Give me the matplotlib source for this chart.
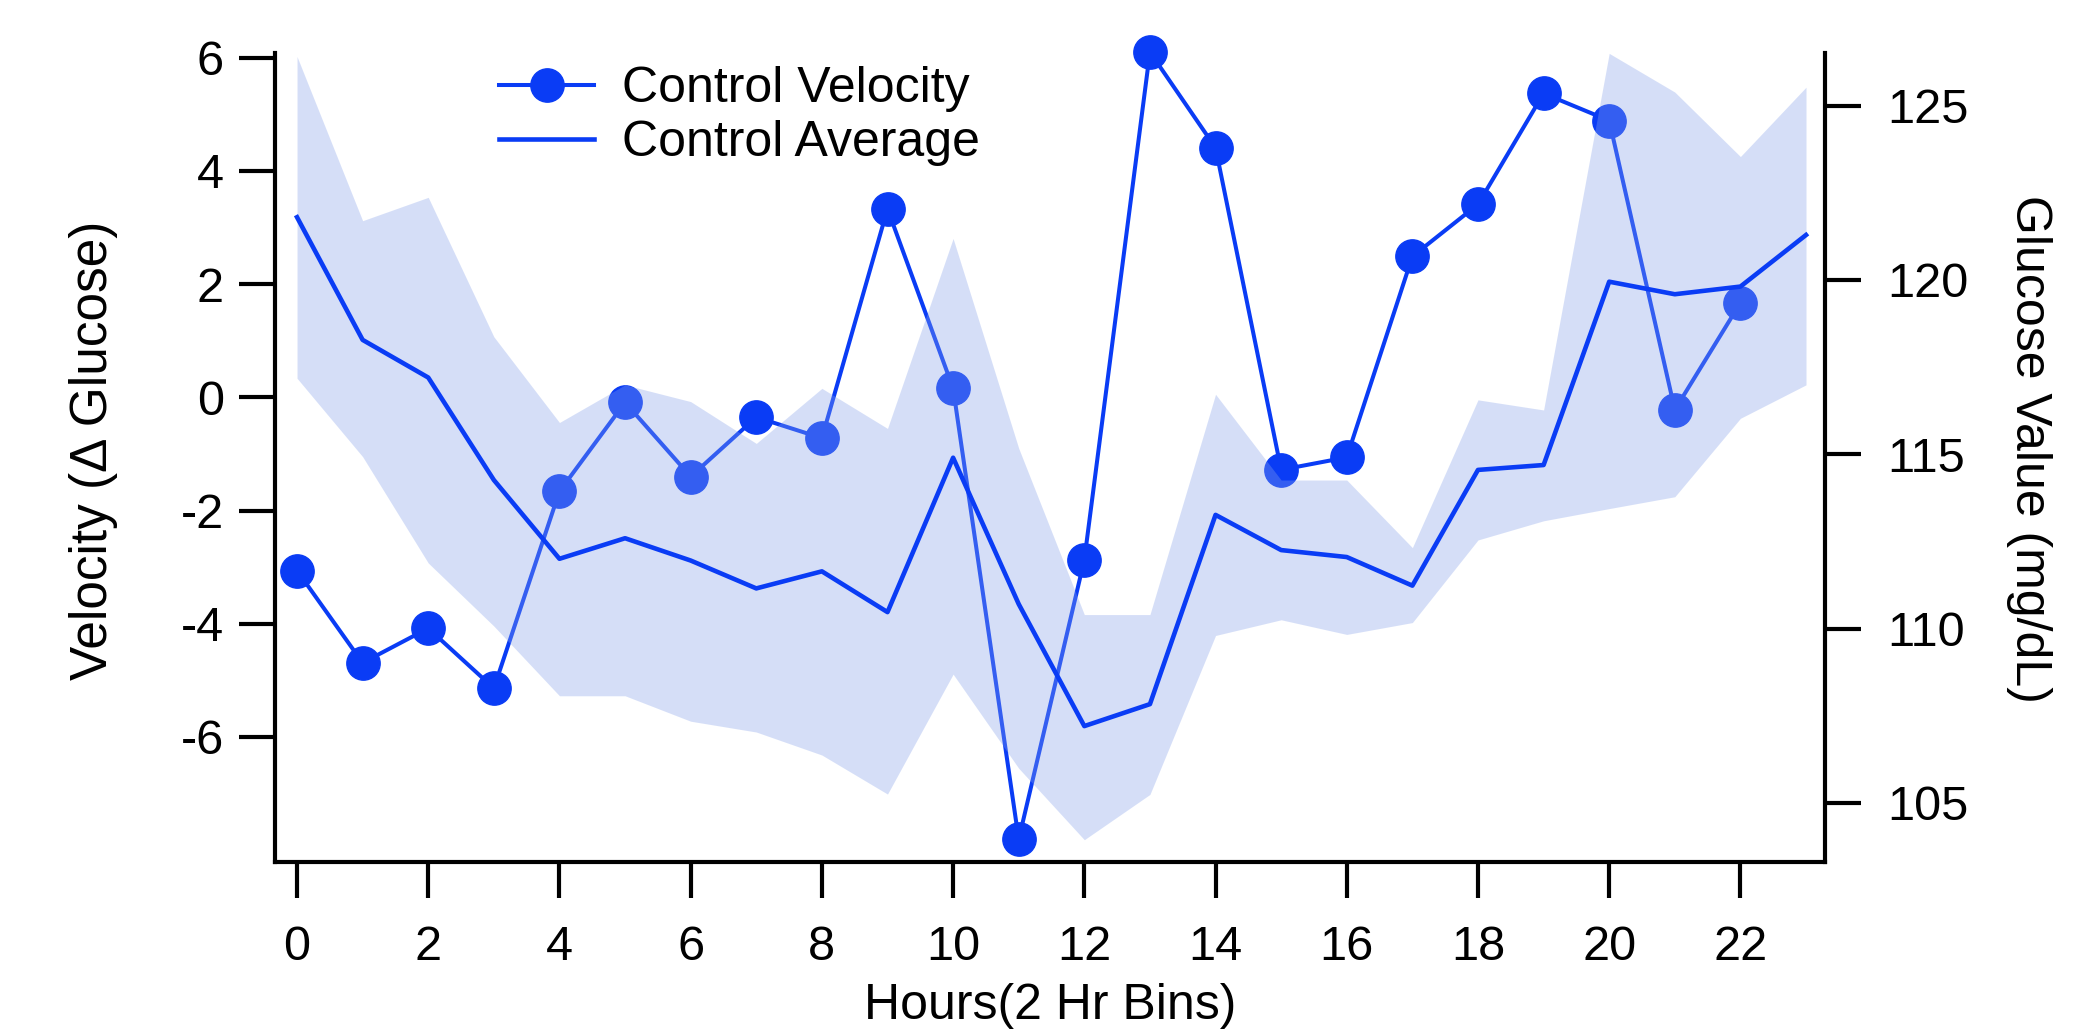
import numpy as np
import matplotlib
matplotlib.use('Agg')
import matplotlib.pyplot as plt

plt.rcParams['font.family'] = ['Liberation Sans', 'DejaVu Sans']
plt.rcParams['axes.unicode_minus'] = False

# hourly bins
hours_vel = list(range(23))
hours_avg = list(range(24))

# left axis: velocity (delta glucose)
velocity = [-3.06, -4.69, -4.08, -5.14, -1.66, -0.09, -1.40, -0.35, -0.72, 3.33,
            0.16, -7.81, -2.87, 6.10, 4.41, -1.28, -1.06, 2.49, 3.41, 5.37,
            4.89, -0.22, 1.67]

# right axis: glucose average with band
glucose_avg = [121.80, 118.28, 117.20, 114.26, 112.00, 112.59, 111.95, 111.15,
               111.64, 110.47, 114.90, 110.70, 107.20, 107.83, 113.26, 112.25,
               112.05, 111.23, 114.55, 114.69, 119.95, 119.59, 119.81, 121.29]
glucose_upper = [126.41, 121.70, 122.37, 118.37, 115.91, 116.99, 116.51, 115.31,
                 116.89, 115.74, 121.19, 115.17, 110.40, 110.40, 116.72, 114.26,
                 114.26, 112.32, 116.56, 116.27, 126.50, 125.39, 123.54, 125.53]
glucose_lower = [117.18, 114.93, 111.88, 110.07, 108.07, 108.07, 107.34, 107.03,
                 106.37, 105.25, 108.69, 105.99, 103.94, 105.24, 109.80, 110.25,
                 109.83, 110.17, 112.54, 113.09, 113.44, 113.78, 116.03, 116.99]

x_ticks = list(range(0, 23, 2))
vel_ticks = [-6, -4, -2, 0, 2, 4, 6]
glu_ticks = [105, 110, 115, 120, 125]

line_color = '#0a3cf5'
band_color = '#86a1ea'

fig = plt.figure(figsize=(20.98, 10.33), dpi=100)
ax = fig.add_axes([0.1311, 0.1655, 0.7388, 0.7835])
ax2 = ax.twinx()

vel_line, = ax.plot(hours_vel, velocity, '-o', color=line_color, lw=2.9,
                    markersize=24, label='Control Velocity', clip_on=False)
ax2.fill_between(hours_avg, glucose_lower, glucose_upper, color=band_color,
                 alpha=0.34, lw=0)
avg_line, = ax2.plot(hours_avg, glucose_avg, '-', color=line_color, lw=3.3,
                     label='Control Average')

ax.set_xlim(-0.335, 23.29)
ax.set_ylim(-8.21, 6.09)
ax2.set_ylim(103.30, 126.52)

ax.set_xticks(x_ticks)
ax.set_yticks(vel_ticks)
ax2.set_yticks(glu_ticks)

for s in ['top', 'right']:
    ax.spines[s].set_visible(False)
for s in ['top', 'left', 'bottom']:
    ax2.spines[s].set_visible(False)
ax.spines['left'].set_linewidth(3)
ax.spines['bottom'].set_linewidth(3)
ax2.spines['right'].set_linewidth(3)

ax.tick_params(axis='x', direction='out', length=26, width=3, labelsize=35, pad=19)
ax.tick_params(axis='y', direction='out', length=26, width=3, labelsize=35, pad=11)
ax2.tick_params(axis='y', direction='out', length=26, width=3, labelsize=35, pad=19)

ax.set_xlabel('Hours(2 Hr Bins)', fontsize=36, va='top')
ax.xaxis.set_label_coords(0.5, -0.149)
ax.set_ylabel('Velocity (Δ Glucose)', fontsize=37)
ax.yaxis.set_label_coords(-0.1013, 0.509)
ax2.set_ylabel('Glucose Value (mg/dL)', fontsize=36, rotation=270, va='bottom')
ax2.yaxis.set_label_coords(1.1168, 0.51)

ax2.legend(handles=[vel_line, avg_line], loc='upper left',
           bbox_to_anchor=(0.1445, 0.983), frameon=False, fontsize=36,
           borderpad=0, borderaxespad=0, handlelength=1.9, handletextpad=0.55,
           labelspacing=0.16)

fig.savefig('out.png', dpi=100)
